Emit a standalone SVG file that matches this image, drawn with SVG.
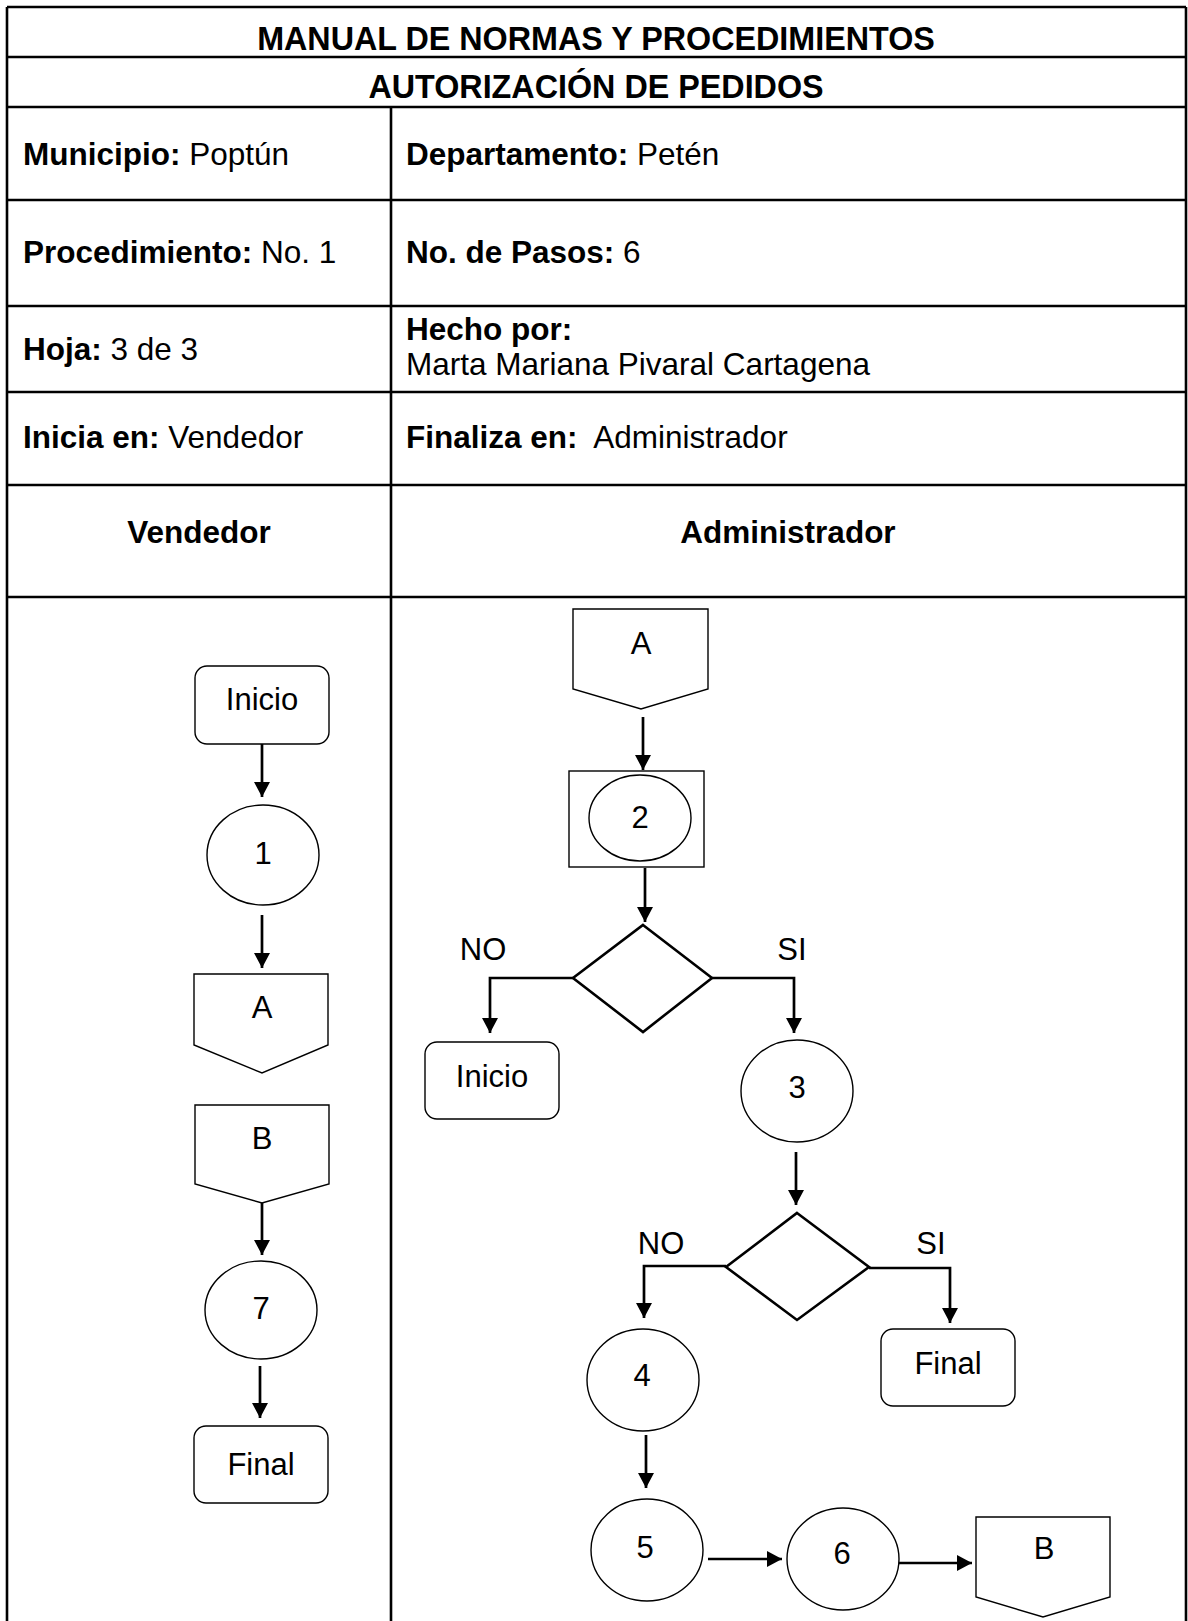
<svg xmlns="http://www.w3.org/2000/svg" width="1188" height="1621" viewBox="0 0 1188 1621">
<style>
text{font-family:"Liberation Sans",Arial,sans-serif;fill:#000}
.h{font-size:31.5px}
.t{font-size:32.3px}
.b{font-weight:bold}
.n{font-size:31px;text-anchor:middle}
.c{text-anchor:middle}
.grid{stroke:#000;stroke-width:2.6;fill:none}
.shape{fill:#fff;stroke:#000;stroke-width:1.4}
.dia{fill:#fff;stroke:#000;stroke-width:2.6}
.conn{fill:none;stroke:#000;stroke-width:2.7}
</style>
<defs>
<marker id="ah" markerUnits="userSpaceOnUse" markerWidth="15" markerHeight="16" refX="15" refY="8" orient="auto">
<path d="M0,0 L15,8 L0,16 z" fill="#000"/>
</marker>
</defs>
<rect width="1188" height="1621" fill="#fff"/>
<g id="table" class="grid">
<line x1="7" y1="7" x2="1186" y2="7"/>
<line x1="7" y1="57" x2="1186" y2="57"/>
<line x1="7" y1="107" x2="1186" y2="107"/>
<line x1="7" y1="200" x2="1186" y2="200"/>
<line x1="7" y1="306" x2="1186" y2="306"/>
<line x1="7" y1="392" x2="1186" y2="392"/>
<line x1="7" y1="485" x2="1186" y2="485"/>
<line x1="7" y1="597" x2="1186" y2="597"/>
<line x1="7" y1="7" x2="7" y2="1621"/>
<line x1="1186" y1="7" x2="1186" y2="1621"/>
<line x1="391" y1="107" x2="391" y2="1621"/>
</g>
<g id="header">
<text class="t b c" x="596" y="50">MANUAL DE NORMAS Y PROCEDIMIENTOS</text>
<text class="t b c" x="596" y="98">AUTORIZACIÓN DE PEDIDOS</text>
<text class="h" x="23" y="165"><tspan class="b">Municipio:</tspan> Poptún</text>
<text class="h" x="406" y="165"><tspan class="b">Departamento:</tspan> Petén</text>
<text class="h" x="23" y="263"><tspan class="b">Procedimiento:</tspan> No. 1</text>
<text class="h" x="406" y="263"><tspan class="b">No. de Pasos:</tspan> 6</text>
<text class="h" x="23" y="360"><tspan class="b">Hoja:</tspan> 3 de 3</text>
<text class="h b" x="406" y="340">Hecho por:</text>
<text class="h" x="406" y="375">Marta Mariana Pivaral Cartagena</text>
<text class="h" x="23" y="448"><tspan class="b">Inicia en:</tspan> Vendedor</text>
<text class="h" x="406" y="448" xml:space="preserve"><tspan class="b">Finaliza en:</tspan>  Administrador</text>
<text class="h b c" x="199" y="543">Vendedor</text>
<text class="h b c" x="788" y="543">Administrador</text>
</g>
<g id="connectors">
<line class="conn" x1="262" y1="744" x2="262" y2="797" marker-end="url(#ah)"/>
<line class="conn" x1="262" y1="915" x2="262" y2="968" marker-end="url(#ah)"/>
<line class="conn" x1="262" y1="1203" x2="262" y2="1255" marker-end="url(#ah)"/>
<line class="conn" x1="260" y1="1366" x2="260" y2="1418" marker-end="url(#ah)"/>
<line class="conn" x1="643" y1="717" x2="643" y2="770" marker-end="url(#ah)"/>
<line class="conn" x1="645" y1="868" x2="645" y2="922" marker-end="url(#ah)"/>
<polyline class="conn" points="573,978 490,978 490,1033" marker-end="url(#ah)"/>
<polyline class="conn" points="712,978 794,978 794,1033" marker-end="url(#ah)"/>
<line class="conn" x1="796" y1="1152" x2="796" y2="1205" marker-end="url(#ah)"/>
<polyline class="conn" points="726,1266 644,1266 644,1318" marker-end="url(#ah)"/>
<polyline class="conn" points="869,1268 950,1268 950,1323" marker-end="url(#ah)"/>
<line class="conn" x1="646" y1="1435" x2="646" y2="1488" marker-end="url(#ah)"/>
<line class="conn" x1="708" y1="1559" x2="782" y2="1559" marker-end="url(#ah)"/>
<line class="conn" x1="898" y1="1563" x2="972" y2="1563" marker-end="url(#ah)"/>
</g>
<g id="v-inicio"><rect class="shape" x="195" y="666" width="134" height="78" rx="12"/><text class="n" x="262" y="710">Inicio</text></g>
<g id="v-1"><ellipse class="shape" cx="263" cy="855" rx="56" ry="50"/><text class="n" x="263" y="864">1</text></g>
<g id="v-a"><polygon class="shape" points="194,974 328,974 328,1045 262,1073 194,1045"/><text class="n" x="262" y="1018">A</text></g>
<g id="v-b"><polygon class="shape" points="195,1105 329,1105 329,1184 262,1203 195,1184"/><text class="n" x="262" y="1149">B</text></g>
<g id="v-7"><ellipse class="shape" cx="261" cy="1310" rx="56" ry="49"/><text class="n" x="261" y="1319">7</text></g>
<g id="v-final"><rect class="shape" x="194" y="1426" width="134" height="77" rx="12"/><text class="n" x="261" y="1475">Final</text></g>
<g id="a-a"><polygon class="shape" points="573,609 708,609 708,689 641,709 573,689"/><text class="n" x="641" y="654">A</text></g>
<g id="a-2"><rect class="shape" x="569" y="771" width="135" height="96"/><ellipse class="shape" cx="640" cy="818" rx="51" ry="43"/><text class="n" x="640" y="828">2</text></g>
<g id="a-d1"><polygon class="dia" points="643,925 712,978 643,1032 573,978"/><text class="n" x="483" y="960">NO</text><text class="n" x="792" y="960">SI</text></g>
<g id="a-inicio"><rect class="shape" x="425" y="1042" width="134" height="77" rx="12"/><text class="n" x="492" y="1087">Inicio</text></g>
<g id="a-3"><ellipse class="shape" cx="797" cy="1091" rx="56" ry="51"/><text class="n" x="797" y="1098">3</text></g>
<g id="a-d2"><polygon class="dia" points="797,1213 869,1267 797,1320 726,1267"/><text class="n" x="661" y="1254">NO</text><text class="n" x="931" y="1254">SI</text></g>
<g id="a-final"><rect class="shape" x="881" y="1329" width="134" height="77" rx="12"/><text class="n" x="948" y="1374">Final</text></g>
<g id="a-4"><ellipse class="shape" cx="643" cy="1380" rx="56" ry="51"/><text class="n" x="642" y="1386">4</text></g>
<g id="a-5"><ellipse class="shape" cx="647" cy="1550" rx="56" ry="51"/><text class="n" x="645" y="1558">5</text></g>
<g id="a-6"><ellipse class="shape" cx="843" cy="1559" rx="56" ry="51"/><text class="n" x="842" y="1564">6</text></g>
<g id="a-b"><polygon class="shape" points="976,1517 1110,1517 1110,1597 1043,1617 976,1597"/><text class="n" x="1044" y="1559">B</text></g>
</svg>
